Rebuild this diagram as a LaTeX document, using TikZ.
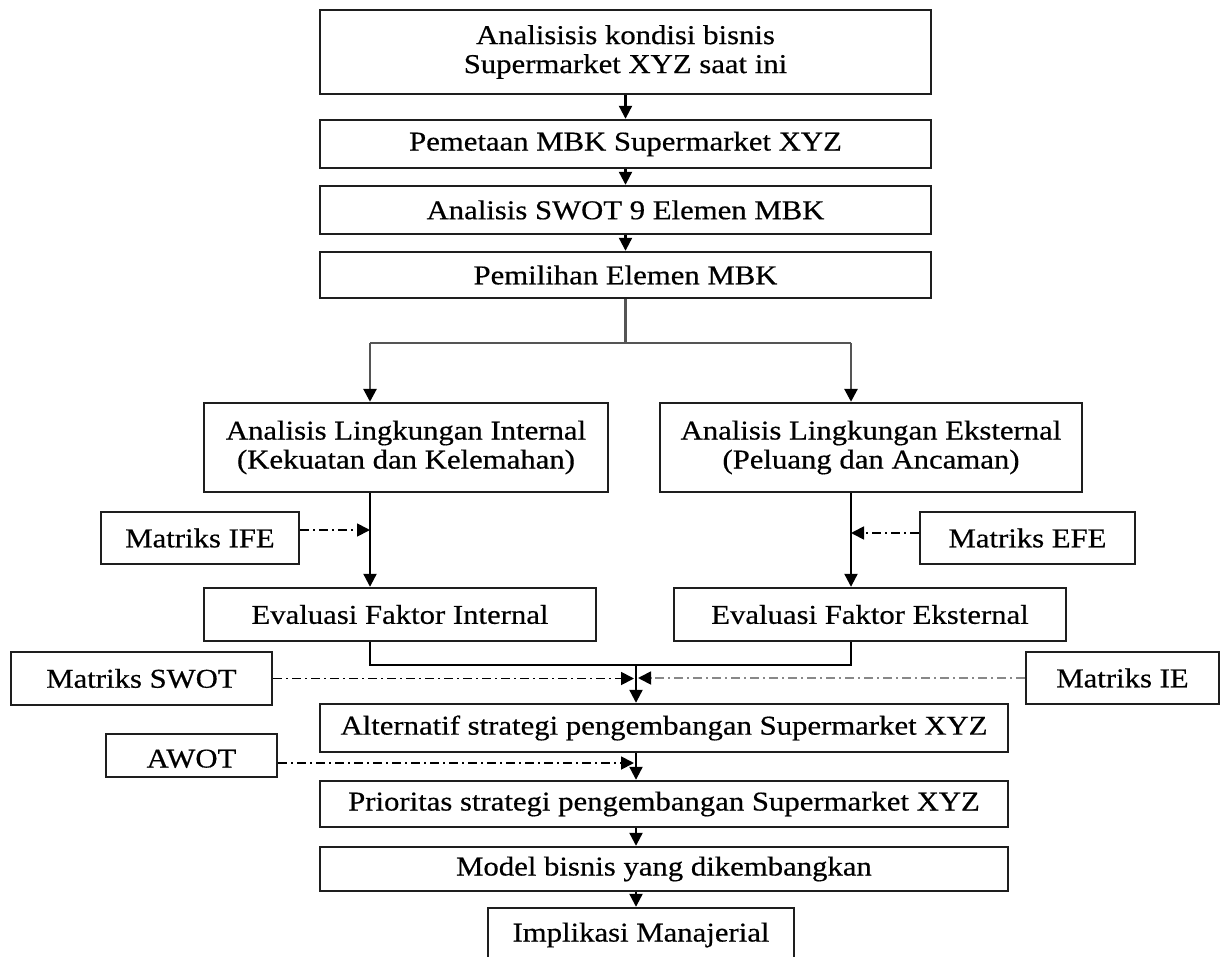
\documentclass[tikz,border=0pt]{standalone}
\usepackage{fontspec}
\setmainfont{Liberation Serif}[FakeStretch=1.13,FakeBold=0.5]
\usetikzlibrary{arrows.meta}
\definecolor{boxc}{HTML}{1E1E1E}
\definecolor{gline}{HTML}{555555}
\definecolor{ieline}{HTML}{888888}
\begin{document}
\begin{tikzpicture}[x=0.5pt,y=-0.5pt,
  box/.style={draw=boxc, line width=1.2pt, inner sep=0pt, align=center,
    font=\fontsize{13.6pt}{14.5pt}\selectfont},
  line/.style={line width=1.1pt, draw=black},
  arr/.style={line, -{Triangle[width=6.5pt,length=6.5pt]}},
  garr/.style={line width=1.4pt, draw=gline, -{Triangle[width=6.5pt,length=6.5pt,color=black]}},
  gl/.style={line width=1.4pt, draw=gline},
  darr/.style={line width=0.9pt, dash pattern=on 4.5pt off 2pt on 1pt off 2pt,
    -{Triangle[width=6.5pt,length=6.5pt,color=black]}}]
\useasboundingbox (0,0) rectangle (1220,957);
\clip (0,0) rectangle (1220,957);

\node[box, minimum width=305.5pt, minimum height=42pt] (top) at (625.5,52)
  {Analisisis kondisi bisnis\\Supermarket XYZ saat ini};
\node[box, minimum width=305.5pt, minimum height=24pt] (pemetaan) at (625.5,144)
  {Pemetaan MBK Supermarket XYZ};
\node[box, minimum width=305.5pt, minimum height=24pt] (swotnine) at (625.5,210)
  {Analisis SWOT 9 Elemen MBK};
\node[box, minimum width=305.5pt, minimum height=23pt] (pemilihan) at (625.5,275)
  {Pemilihan Elemen MBK};
\node[box, minimum width=202pt, minimum height=44.5pt] (internal) at (406,447.5)
  {Analisis Lingkungan Internal\\(Kekuatan dan Kelemahan)};
\node[box, minimum width=211pt, minimum height=44.5pt] (external) at (871,447.5)
  {Analisis Lingkungan Eksternal\\(Peluang dan Ancaman)};
\node[box, minimum width=99pt, minimum height=26pt] (ife) at (200,538) {Matriks IFE};
\node[box, minimum width=107.5pt, minimum height=26pt] (efe) at (1027.5,538) {Matriks EFE};
\node[box, minimum width=196pt, minimum height=26.5pt] (evalint) at (400,614.5)
  {Evaluasi Faktor Internal};
\node[box, minimum width=196pt, minimum height=26.5pt] (evalext) at (870,614.5)
  {Evaluasi Faktor Eksternal};
\node[box, minimum width=130.5pt, minimum height=26.5pt] (swotm) at (141.5,678.5) {Matriks SWOT};
\node[box, minimum width=96.5pt, minimum height=26pt] (ie) at (1122.5,678) {Matriks IE};
\node[box, minimum width=344pt, minimum height=24pt] (alternatif) at (664,728)
  {Alternatif strategi pengembangan Supermarket XYZ};
\node[box, minimum width=85.5pt, minimum height=21.5pt] (awot) at (191.5,755.5)
  {\vphantom{Ag}\smash{\raisebox{-3pt}{AWOT}}};
\node[box, minimum width=344pt, minimum height=23pt] (prioritas) at (664,804)
  {Prioritas strategi pengembangan Supermarket XYZ};
\node[box, minimum width=344pt, minimum height=22pt] (model) at (664,869)
  {Model bisnis yang dikembangkan};
\node[box, minimum width=153pt, minimum height=27pt] (implikasi) at (641,935)
  {Implikasi Manajerial};

\coordinate (jl) at (370,343);
\coordinate (jr) at (851,343);
\coordinate (mg) at (636,665);
\coordinate (mgl) at (634,679);
\coordinate (mgr) at (638,679);

\draw[arr] (top.south) -- (pemetaan.north);
\draw[arr] (pemetaan.south) -- (swotnine.north);
\draw[arr] (swotnine.south) -- (pemilihan.north);

\draw[gl] (pemilihan.south) -- (pemilihan.south |- jl);
\draw[gl] (jl) -- (jr);
\draw[garr] (jl) -- (jl |- internal.north);
\draw[garr] (jr) -- (jr |- external.north);

\draw[arr] (jl |- internal.south) -- (jl |- evalint.north);
\draw[arr] (jr |- external.south) -- (jr |- evalext.north);
\draw[darr] ([yshift=4pt]ife.east) -- ([yshift=4pt]ife.east -| jl);
\draw[darr] ([yshift=2.5pt]efe.west) -- ([yshift=2.5pt]efe.west -| jr);

\draw[line] (jl |- evalint.south) |- (mg);
\draw[line] (jr |- evalext.south) |- (mg);
\draw[arr] (mg) -- (mg |- alternatif.north);
\draw[darr] (swotm.east) -- (swotm.east -| mgl);
\draw[darr, draw=ieline] (ie.west) -- (ie.west -| mgr);
\draw[darr] ([yshift=-3.75pt]awot.east) -- ([yshift=-3.75pt]awot.east -| mgl);

\draw[arr] (alternatif.south -| mg) -- (prioritas.north -| mg);
\draw[arr] (prioritas.south -| mg) -- (model.north -| mg);
\draw[arr] (model.south -| mg) -- (implikasi.north -| mg);
\end{tikzpicture}
\end{document}
